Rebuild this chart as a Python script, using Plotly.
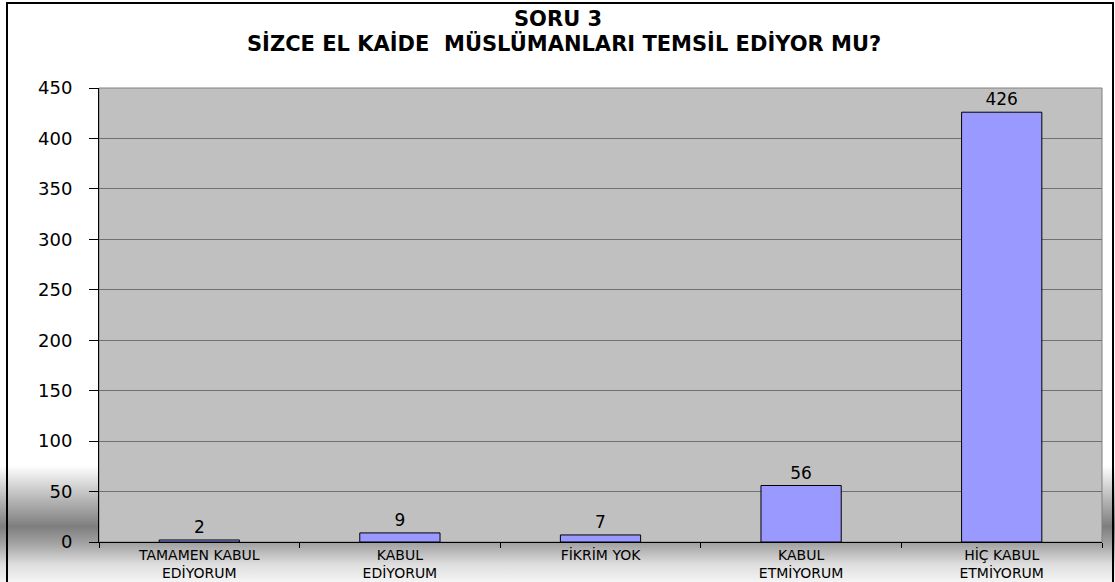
import base64
import plotly.graph_objects as go

categories = ["TAMAMEN KABUL<br>EDİYORUM", "KABUL<br>EDİYORUM", "FİKRİM YOK",
              "KABUL<br>ETMİYORUM", "HİÇ KABUL<br>ETMİYORUM"]
values = [2, 9, 7, 56, 426]
y_ticks = [0, 50, 100, 150, 200, 250, 300, 350, 400, 450]
title_lines = ["SORU 3", "SİZCE EL KAİDE  MÜSLÜMANLARI TEMSİL EDİYOR MU?"]

W, H = 1115, 582
L, R, T, B = 99, 13, 88, 40
pw, ph = W - L - R, H - T - B

svg = f'''<svg xmlns="http://www.w3.org/2000/svg" width="{W}" height="{H}" viewBox="0 0 {W} {H}" preserveAspectRatio="none">
<defs><linearGradient id="g" x1="0" y1="0" x2="0" y2="1">
<stop offset="0" stop-color="#ffffff"/>
<stop offset="0.80" stop-color="#ffffff"/>
<stop offset="0.86" stop-color="#b4b4b4"/>
<stop offset="0.905" stop-color="#7e7e7e"/>
<stop offset="0.935" stop-color="#a4a4a4"/>
<stop offset="0.97" stop-color="#dedede"/>
<stop offset="1" stop-color="#f4f4f4"/>
</linearGradient></defs>
<rect x="0" y="0" width="{W}" height="{H}" fill="url(#g)"/>
<rect x="{L}" y="{T}" width="{pw}" height="{ph}" fill="#C0C0C0"/>
</svg>'''
src = "data:image/svg+xml;base64," + base64.b64encode(svg.encode()).decode()

font = "DejaVu Sans, Liberation Sans, Arial, sans-serif"


def py(pix):
    return 1 + (T - pix) / ph


fig = go.Figure(go.Bar(
    x=categories, y=values,
    marker=dict(color="#9999FF", line=dict(color="#000000", width=1)),
    text=[str(v) for v in values], textposition="outside",
    textfont=dict(family=font, size=17, color="#000000"),
    cliponaxis=False,
))

fig.update_layout(
    width=W, height=H,
    margin=dict(l=L, r=R, t=T, b=B, pad=0),
    paper_bgcolor="#ffffff", plot_bgcolor="#C0C0C0",
    bargap=0.6, showlegend=False,
    xaxis=dict(showgrid=False, ticks="outside", tickson="boundaries", ticklen=5,
               tickcolor="#000000", showline=True, linecolor="#000000", linewidth=1,
               tickfont=dict(family=font, size=14, color="#000000"),
               automargin=False, fixedrange=True),
    yaxis=dict(range=[0, 450], tickvals=y_ticks, showgrid=True, gridcolor="#707070",
               gridwidth=1, zeroline=False, ticks="outside", ticklen=9,
               tickcolor="#000000", showline=True, linecolor="#000000", linewidth=1,
               tickfont=dict(family=font, size=18, color="#000000"),
               ticklabelstandoff=13, automargin=False, fixedrange=True),
    images=[dict(source=src, xref="paper", yref="paper",
                 x=-L / pw, y=1 + T / ph, sizex=W / pw, sizey=H / ph,
                 xanchor="left", yanchor="top", sizing="stretch", layer="below")],
    annotations=[
        dict(text="<b>" + title_lines[0] + "</b>", xref="paper", yref="paper",
             x=(558 - L) / pw, y=py(19), xanchor="center", yanchor="middle",
             showarrow=False, font=dict(family=font, size=21, color="#000000")),
        dict(text="<b>" + title_lines[1] + "</b>", xref="paper", yref="paper",
             x=(564 - L) / pw, y=py(44), xanchor="center", yanchor="middle",
             showarrow=False, font=dict(family=font, size=21, color="#000000")),
    ],
    shapes=[
        dict(type="rect", xref="paper", yref="paper", x0=0, x1=1, y0=0, y1=1,
             line=dict(color="#808080", width=1), fillcolor="rgba(0,0,0,0)", layer="below"),
        dict(type="rect", xref="paper", yref="paper",
             x0=(7 - L) / pw, x1=(1113 - L) / pw, y0=-(B + 10) / ph, y1=1 + (T - 3) / ph,
             line=dict(color="#000000", width=2), fillcolor="rgba(0,0,0,0)"),
    ],
)

fig.write_html("out.html", config={"displayModeBar": False},
               post_script="document.body.style.margin='0';document.body.style.overflow='hidden';")
